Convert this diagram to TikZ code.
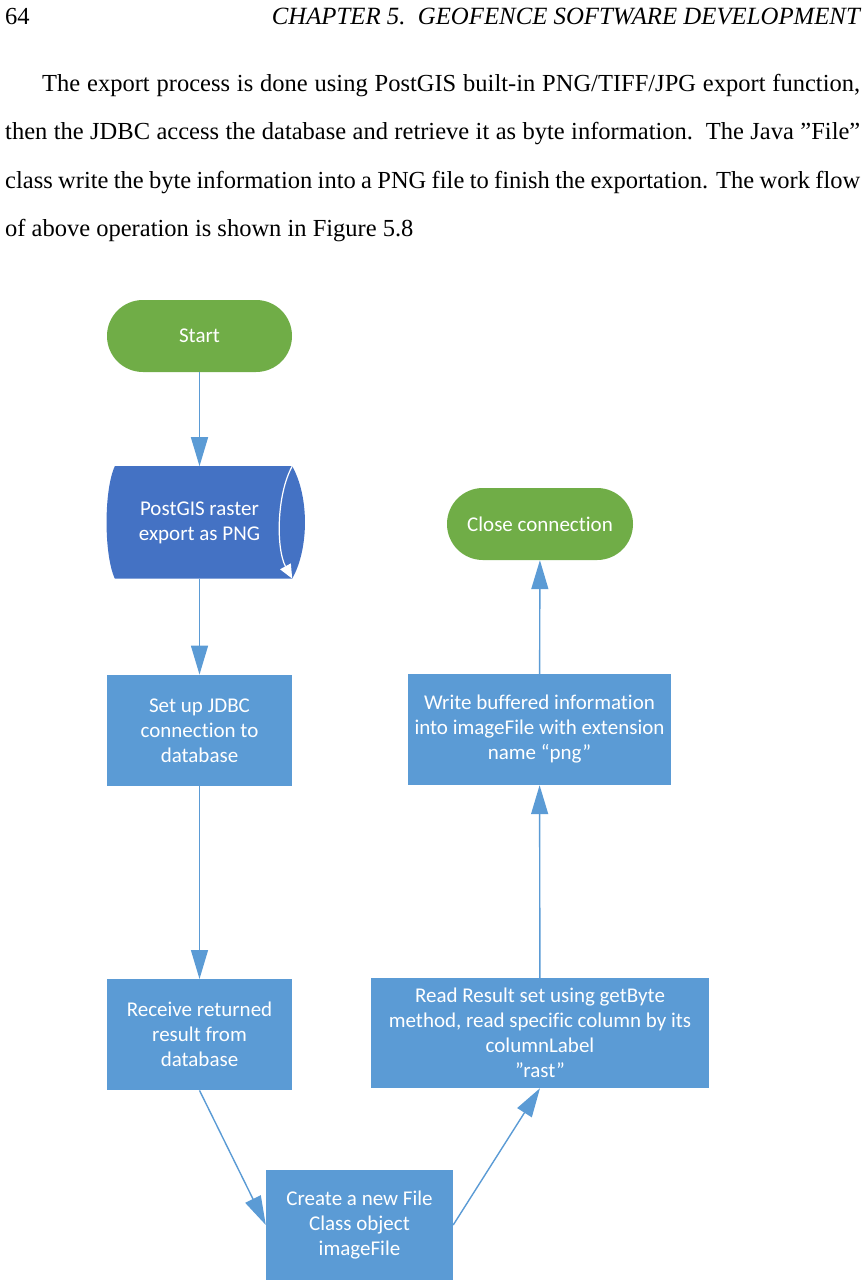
\documentclass[tikz,border=0pt]{standalone}
\usepackage{fontspec}
\setmainfont{Liberation Serif}
\newfontfamily\chartfont[Ligatures=NoCommon]{Carlito}
\usetikzlibrary{arrows.meta,positioning,backgrounds}

\definecolor{termgreen}{HTML}{70AD47}
\definecolor{boxblue}{HTML}{5B9BD5}
\definecolor{storeblue}{HTML}{4472C4}

\newcommand{\fullline}[1]{\hbox to 855pt{#1}}

\begin{document}
\begin{tikzpicture}[
    x=1pt, y=-1pt,
    >={Triangle[length=29pt,width=17pt]},
    node distance=94pt,
    chart/.style={font=\chartfont\fontsize{21}{25}\selectfont, text=white, align=center, inner sep=0pt},
    terminal/.style={chart, fill=termgreen, rounded corners=35.9pt, minimum width=185pt, minimum height=72pt},
    process/.style={chart, fill=boxblue, minimum width=185pt, minimum height=111pt},
    store/.style={chart, minimum width=185pt, minimum height=112pt},
    pagetext/.style={font=\fontsize{24.5}{48}\selectfont, inner sep=0pt, anchor=base west},
    flow/.style={->, draw=boxblue, fill=boxblue, line width=1.4pt}
]
\useasboundingbox (0,0) rectangle (865,1288);

% Page header and paragraph
\node[pagetext] (pagenum) at (5,24) {64};
\node[pagetext, anchor=base east, font=\fontsize{24.8}{48}\selectfont\itshape] (chapter) at (860,24) {CHAPTER 5.\ \ GEOFENCE SOFTWARE DEVELOPMENT};
\node[pagetext] (line1) at (42,91) {\hbox to 818pt{The export process is done using PostGIS built-in PNG/TIFF/JPG export function,}};
\node[pagetext] (line2) at (5,139.5) {\fullline{then the JDBC access the database and retrieve it as byte information.\ \ The Java ''File''}};
\node[pagetext] (line3) at (5,188) {\fullline{class write the byte information into a PNG file to finish the exportation. The work flow}};
\node[pagetext] (line4) at (5,236) {of above operation is shown in Figure 5.8};

% Left column
\node[terminal] (start) at (199.5,336) {Start};
\node[store, below=of start] (postgis) {PostGIS raster\\export as PNG};
\node[process, below=96pt of postgis] (jdbc) {Set up JDBC\\connection to\\database};
\node[process, below=193pt of jdbc] (receive) {Receive returned\\result from\\database};
\node[process, minimum width=187pt, minimum height=110pt] (create) at (359.5,1225) {Create a new File\\Class object\\imageFile};

% Right column
\node[process, minimum width=338pt, minimum height=110pt] (read) at (540,1033) {Read Result set using getByte\\method, read specific column by its\\columnLabel\\”rast”};
\node[process, minimum width=263pt] (write) at (539.5,729.5) {Write buffered information\\into imageFile with extension\\name “png”};
\node[terminal, minimum width=186pt] (close) at (540,524) {Close connection};

% Storage symbol behind the PostGIS text
\begin{scope}[on background layer]
  \fill[storeblue] ([xshift=8pt]postgis.north west) -- (postgis.north east)
    .. controls +(17,30) and +(17,-30) .. (postgis.south east)
    -- ([xshift=8pt]postgis.south west)
    .. controls +(-11,-24) and +(-11,24) .. ([xshift=8pt]postgis.north west) -- cycle;
\end{scope}
\draw[white, line width=1.2pt, -{Triangle[length=14pt,width=12pt]}] (postgis.north east)
  .. controls +(-16,29) and +(-16,-29) .. (postgis.south east);

% Flows
\draw[flow] (start) -- (postgis);
\draw[flow] (postgis) -- (jdbc);
\draw[flow] (jdbc) -- (receive);
\draw[flow] (receive.south) -- (create.west);
\draw[flow] (create.east) -- (read.south);
\draw[flow] (read) -- (write);
\draw[flow] (write) -- (close);

\end{tikzpicture}
\end{document}
